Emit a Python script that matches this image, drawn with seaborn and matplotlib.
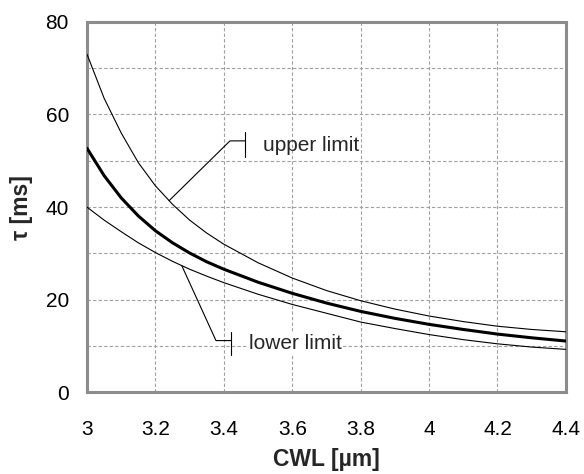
import numpy as np
import pandas as pd
import matplotlib
matplotlib.use("Agg")
import matplotlib.pyplot as plt
import seaborn as sns

# =========================
# DATA
# =========================
cwl = [3.0, 3.05, 3.1, 3.15, 3.2, 3.25, 3.3, 3.35, 3.4,
       3.5, 3.6, 3.7, 3.8, 3.9, 4.0, 4.1, 4.2, 4.3, 4.4]
tau_upper = [73.0, 63.5, 56.0, 49.6, 44.6, 40.6, 37.2, 34.4, 32.0,
             28.0, 24.7, 22.0, 19.8, 18.0, 16.5, 15.3, 14.3, 13.6, 13.1]
tau_nominal = [52.7, 46.8, 42.0, 38.1, 34.9, 32.3, 30.1, 28.2, 26.6,
               23.8, 21.4, 19.3, 17.5, 16.0, 14.7, 13.6, 12.6, 11.8, 11.1]
tau_lower = [40.0, 37.2, 34.7, 32.3, 30.2, 28.3, 26.6, 25.1, 23.7,
             21.2, 19.0, 17.1, 15.2, 13.8, 12.5, 11.4, 10.5, 9.8, 9.3]

x_ticks = [3, 3.2, 3.4, 3.6, 3.8, 4, 4.2, 4.4]
x_tick_labels = ["3", "3.2", "3.4", "3.6", "3.8", "4", "4.2", "4.4"]
y_ticks = [0, 20, 40, 60, 80]

df = pd.DataFrame({
    "CWL": cwl * 3,
    "tau": tau_upper + tau_nominal + tau_lower,
    "curve": ["upper"] * len(cwl) + ["nominal"] * len(cwl) + ["lower"] * len(cwl),
})

# =========================
# STYLE
# =========================
sns.set_style("white")
plt.rcParams["font.family"] = ["Liberation Sans", "DejaVu Sans"]

fig = plt.figure(figsize=(5.84, 4.74), dpi=100)
ax = fig.add_axes([0.149, 0.172, 0.820, 0.782])

sns.lineplot(data=df, x="CWL", y="tau", hue="curve", size="curve",
             palette={"upper": "black", "nominal": "black", "lower": "black"},
             sizes={"upper": 0.8, "nominal": 2.2, "lower": 0.8},
             legend=False, ax=ax, zorder=3)

ax.set_xlim(3, 4.4)
ax.set_ylim(0, 80)
ax.set_xticks(x_ticks)
ax.set_xticklabels(x_tick_labels)
ax.set_yticks(y_ticks)
ax.set_yticks(np.arange(10, 80, 20), minor=True)
ax.tick_params(axis="both", which="both", length=0, labelsize=15, colors="black")
ax.tick_params(axis="x", pad=20)
ax.tick_params(axis="y", pad=13)

ax.grid(True, which="both", color="#a0a0a0", linestyle=(0, (3, 2)), linewidth=0.8)
ax.set_axisbelow(True)
for sp in ax.spines.values():
    sp.set_color("#8c8c8c")
    sp.set_linewidth(2.2)

ax.set_xlabel("CWL [µm]", fontsize=16.5, fontweight="bold", labelpad=6)
ax.set_ylabel("τ [ms]", fontsize=16.5, fontweight="bold", labelpad=9)

# =========================
# ANNOTATIONS (leader lines)
# =========================
ux0 = 3.24
uy0 = np.interp(ux0, cwl, tau_upper)
ax.plot([ux0, 3.418, 3.462], [uy0, 54.3, 54.3], color="black", lw=0.8, zorder=4)
ax.plot([3.462, 3.462], [50.9, 56.3], color="black", lw=0.8, zorder=4)
ax.text(3.514, 53.4, "upper limit", fontsize=15, va="center", ha="left")

lx0 = 3.277
ly0 = np.interp(lx0, cwl, tau_lower)
ax.plot([lx0, 3.377, 3.421], [ly0, 11.2, 11.2], color="black", lw=0.8, zorder=4)
ax.plot([3.421, 3.421], [8.1, 13.1], color="black", lw=0.8, zorder=4)
ax.text(3.474, 10.5, "lower limit", fontsize=15, va="center", ha="left",
        bbox=dict(facecolor="white", edgecolor="none", pad=1))

fig.savefig("out.png", dpi=100)
